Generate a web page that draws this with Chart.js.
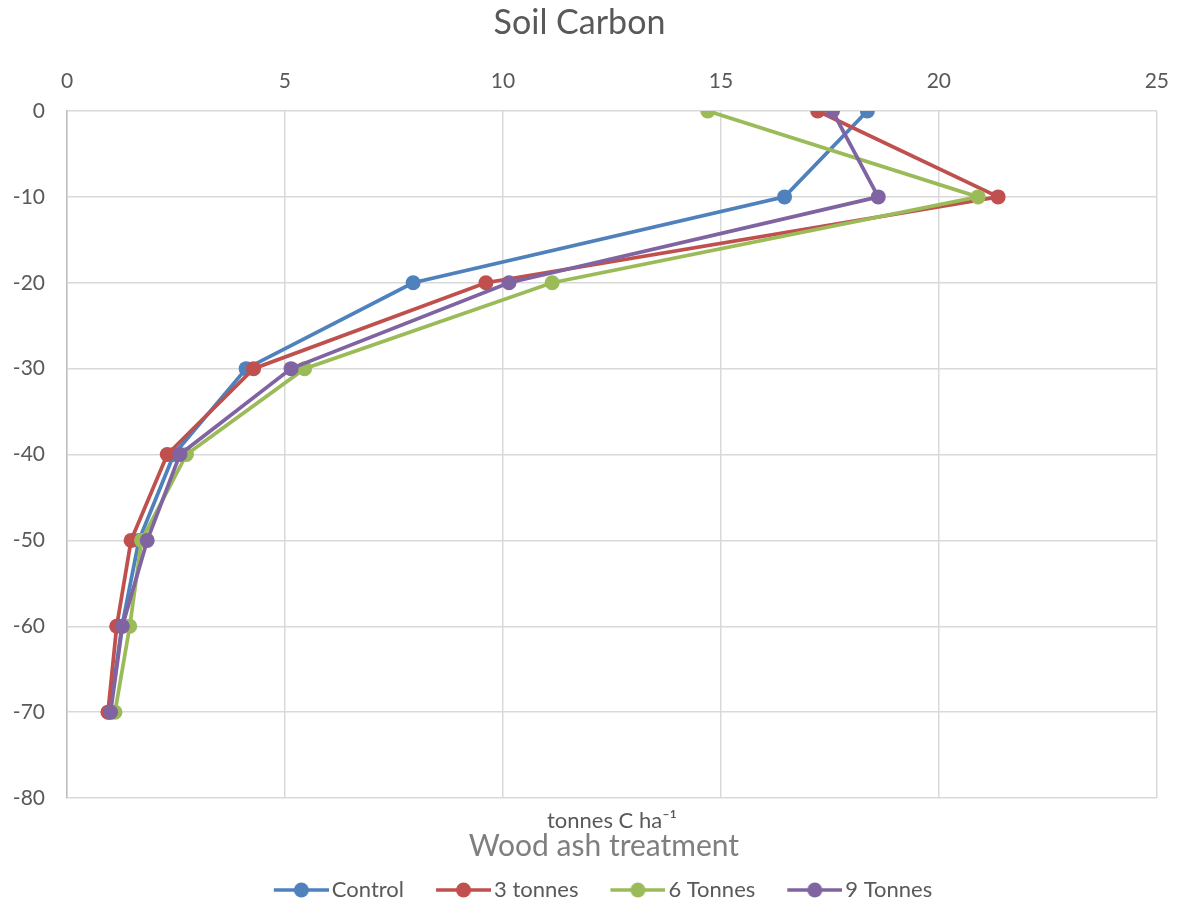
<!DOCTYPE html>
<html lang="en">
<head>
    <meta charset="UTF-8">
    <title>Soil Carbon</title>
    <script src="https://cdn.jsdelivr.net/npm/chart.js"></script>
    <style>
        body {
            margin: 0;
            background-color: #ffffff;
        }
        #chart-container {
            width: 1186px;
            height: 905px;
        }
    </style>
</head>
<body>
    <div id="chart-container">
        <canvas id="myChart"></canvas>
    </div>

    <script>
        // Depth (cm) and carbon stock (tonnes C ha-1) per wood ash treatment
        const depths = [0, -10, -20, -30, -40, -50, -60, -70];
        const control = [18.36, 16.46, 7.94, 4.11, 2.45, 1.65, 1.26, 0.98];
        const tonnes3 = [17.22, 21.36, 9.61, 4.28, 2.30, 1.47, 1.14, 0.94];
        const tonnes6 = [14.70, 20.90, 11.13, 5.45, 2.74, 1.71, 1.44, 1.10];
        const tonnes9 = [17.56, 18.61, 10.14, 5.14, 2.59, 1.84, 1.27, 1.00];
        const seriesNames = ['Control', '3 tonnes', '6 Tonnes', '9 Tonnes'];
        const xTicks = [0, 5, 10, 15, 20, 25];
        const subtitleText = 'Wood ash treatment';

        const colors = ['#4f81bd', '#c0504d', '#9bbb59', '#8064a2'];
        const FONT = 'Lato, "Open Sans", sans-serif';
        const LEGEND_PAD = 5;
        const LEGEND_BOX = 79 - LEGEND_PAD;

        function toPoints(values) {
            return values.map((v, i) => ({x: v, y: depths[i]}));
        }

        // "line with a dot" icon for the legend, pushed to the right so it sits close to the text
        function legendIcon(color) {
            const c = document.createElement('canvas');
            c.width = LEGEND_BOX + 16;
            c.height = 16;
            const g = c.getContext('2d');
            const x0 = c.width - 55;
            g.strokeStyle = color;
            g.lineWidth = 3.5;
            g.beginPath();
            g.moveTo(x0, 8);
            g.lineTo(c.width, 8);
            g.stroke();
            g.fillStyle = color;
            g.beginPath();
            g.arc(x0 + 27.5, 8, 7.5, 0, Math.PI * 2);
            g.fill();
            return c;
        }

        // small horizontal nudges so the subtitle and legend sit where the original has them
        const nudgeBoxes = {
            id: 'nudgeBoxes',
            afterLayout(chart) {
                chart.boxes.forEach(b => {
                    if (b.options && b.options.text === subtitleText) {
                        b.left -= 8;
                        b.right -= 8;
                    }
                });
                if (chart.legend) {
                    chart.legend.left += 10;
                    chart.legend.right += 10;
                }
            }
        };

        const allSeries = [control, tonnes3, tonnes6, tonnes9];
        const datasets = allSeries.map((vals, i) => ({
            label: seriesNames[i],
            data: toPoints(vals),
            showLine: true,
            borderColor: colors[i],
            backgroundColor: colors[i],
            borderWidth: 3.75,
            pointRadius: 7.5,
            pointHoverRadius: 7.5,
            pointBorderWidth: 0,
            order: allSeries.length - i
        }));

        const ctx = document.getElementById('myChart').getContext('2d');
        new Chart(ctx, {
            type: 'scatter',
            data: { datasets: datasets },
            plugins: [nudgeBoxes],
            options: {
                responsive: true,
                maintainAspectRatio: false,
                animation: false,
                layout: {
                    padding: { left: 0, right: 27, top: 0, bottom: -6 }
                },
                scales: {
                    x: {
                        type: 'linear',
                        position: 'top',
                        min: 0,
                        max: 25,
                        afterBuildTicks: (axis) => {
                            axis.ticks = xTicks.map(v => ({value: v}));
                        },
                        grid: {
                            color: '#d9d9d9',
                            lineWidth: 1.5,
                            drawTicks: false
                        },
                        border: { display: false },
                        ticks: {
                            color: '#595959',
                            font: { family: FONT, size: 21 },
                            padding: 17
                        }
                    },
                    x2: {
                        type: 'linear',
                        position: 'bottom',
                        min: 0,
                        max: 25,
                        grid: { display: false, drawTicks: false },
                        border: { display: false },
                        ticks: { display: false },
                        title: {
                            display: true,
                            text: 'tonnes C ha\u207B\u00B9',
                            color: '#595959',
                            font: { family: FONT, size: 22, lineHeight: 1 },
                            padding: { top: 12, bottom: -1 }
                        }
                    },
                    y: {
                        type: 'linear',
                        min: -80,
                        max: 0,
                        afterFit: (axis) => {
                            axis.width = 67;
                        },
                        ticks: {
                            stepSize: 10,
                            color: '#595959',
                            font: { family: FONT, size: 21 },
                            padding: 22
                        },
                        grid: {
                            color: '#d9d9d9',
                            lineWidth: 1.5,
                            drawTicks: false
                        },
                        border: { color: '#bfbfbf', width: 1.5 }
                    }
                },
                plugins: {
                    title: {
                        display: true,
                        text: 'Soil Carbon',
                        color: '#595959',
                        font: { family: FONT, size: 34, weight: 'normal' },
                        padding: { top: 3, bottom: 8 }
                    },
                    subtitle: {
                        display: true,
                        position: 'bottom',
                        fullSize: false,
                        text: subtitleText,
                        color: '#7f7f7f',
                        font: { family: FONT, size: 30, weight: 'normal', lineHeight: 1 },
                        padding: { top: 0, bottom: 13 },
                        weight: 1500
                    },
                    legend: {
                        position: 'bottom',
                        weight: 3000,
                        labels: {
                            usePointStyle: true,
                            pointStyleWidth: LEGEND_BOX,
                            color: '#595959',
                            font: { family: FONT, size: 22 },
                            padding: LEGEND_PAD,
                            generateLabels: (chart) => chart.data.datasets.map((ds, i) => ({
                                text: ds.label,
                                pointStyle: legendIcon(colors[i]),
                                fillStyle: colors[i],
                                strokeStyle: colors[i],
                                lineWidth: 0,
                                fontColor: '#595959',
                                hidden: false,
                                datasetIndex: i
                            }))
                        }
                    },
                    tooltip: { enabled: false }
                }
            }
        });
    </script>
</body>
</html>
